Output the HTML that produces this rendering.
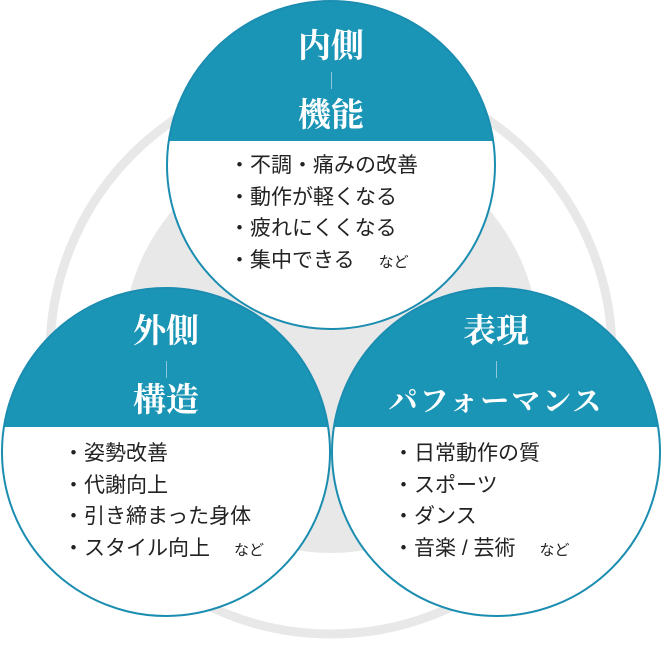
<!DOCTYPE html>
<html><head><meta charset="utf-8"><style>
html,body{margin:0;padding:0;background:#fff;}
body{width:662px;height:645px;position:relative;overflow:hidden;font-family:"Liberation Sans","Noto Sans CJK JP",sans-serif;}
svg{position:absolute;left:0;top:0;}
.t{position:absolute;color:#fff;font-family:"Liberation Serif","Noto Serif CJK SC",serif;font-weight:bold;font-size:33px;text-align:center;width:320px;line-height:36px;}
.d{position:absolute;width:1px;height:17px;background:#8cc6d8;}
.l{position:absolute;font-size:21px;color:#222;line-height:31.5px;white-space:nowrap;}
.l small{font-size:15px;margin-left:24px;}
</style></head><body>
<svg width="662" height="645">
<circle cx="331" cy="345" r="208" fill="#e8e8e8"/>
<circle cx="331" cy="353" r="281" fill="none" stroke="#e8e8e8" stroke-width="9"/>
<defs>
<clipPath id="c1"><circle cx="331" cy="165" r="164"/></clipPath>
<clipPath id="c2"><circle cx="166" cy="452" r="164"/></clipPath>
<clipPath id="c3"><circle cx="496" cy="452" r="164"/></clipPath>
</defs>
<circle cx="331" cy="165" r="164" fill="#fff"/>
<rect x="160" y="0" width="345" height="141" fill="#1a95b6" clip-path="url(#c1)"/>
<circle cx="331" cy="165" r="164" fill="none" stroke="#1a8db0" stroke-width="2"/>
<circle cx="166" cy="452" r="164" fill="#fff"/>
<rect x="0" y="280" width="340" height="147" fill="#1a95b6" clip-path="url(#c2)"/>
<circle cx="166" cy="452" r="164" fill="none" stroke="#1a8db0" stroke-width="2"/>
<circle cx="496" cy="452" r="164" fill="#fff"/>
<rect x="325" y="280" width="345" height="147" fill="#1a95b6" clip-path="url(#c3)"/>
<circle cx="496" cy="452" r="164" fill="none" stroke="#1a8db0" stroke-width="2"/>
</svg>
<div class="t" style="left:171px;top:29px;">内側</div>
<div class="d" style="left:331px;top:72px;"></div>
<div class="t" style="left:171px;top:98px;">機能</div>
<div class="l" style="left:229px;top:150px;">・不調・痛みの改善<br>・動作が軽くなる<br>・疲れにくくなる<br>・集中できる<small>など</small></div>

<div class="t" style="left:6px;top:314px;">外側</div>
<div class="d" style="left:166px;top:361px;"></div>
<div class="t" style="left:6px;top:383px;">構造</div>
<div class="l" style="left:63px;top:438px;">・姿勢改善<br>・代謝向上<br>・引き締まった身体<br>・スタイル向上<small>など</small></div>

<div class="t" style="left:336px;top:314px;">表現</div>
<div class="d" style="left:496px;top:361px;"></div>
<div class="t" style="left:336px;top:384px;letter-spacing:2px;font-size:29px;">パフォーマンス</div>
<div class="l" style="left:393px;top:438px;">・日常動作の質<br>・スポーツ<br>・ダンス<br>・音楽 / 芸術<small>など</small></div>
</body></html>
